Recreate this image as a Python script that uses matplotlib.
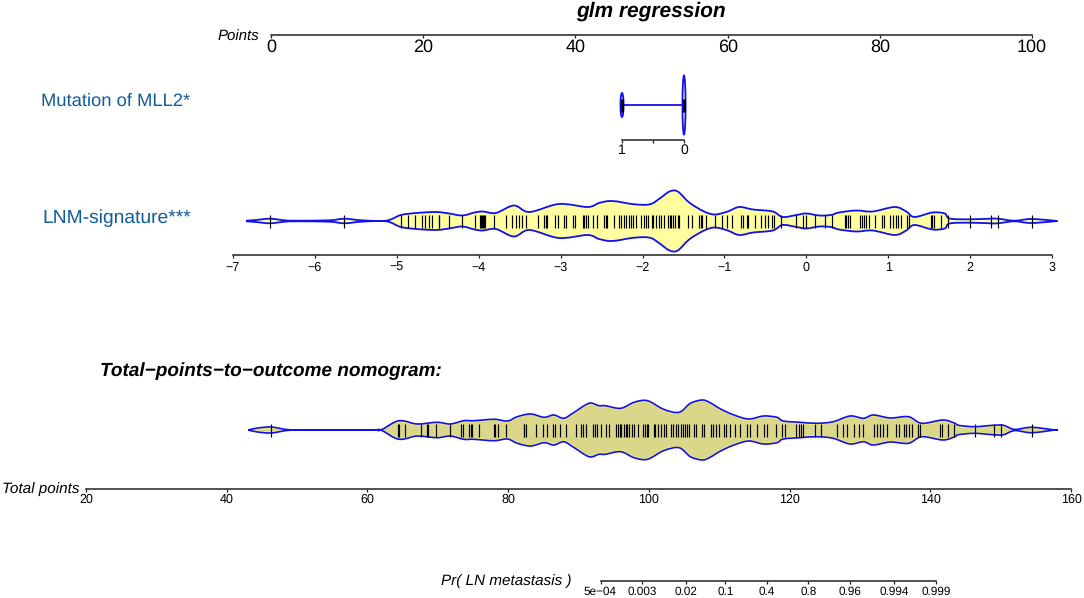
#!/usr/bin/env python3
"""Nomogram with density strips for MLL2 mutation and LNM-signature."""

import matplotlib

matplotlib.use("Agg")

import matplotlib.pyplot as plt
from matplotlib.patches import Ellipse, PathPatch
from matplotlib.path import Path

plt.rcParams["font.family"] = ["Liberation Sans", "DejaVu Sans"]
plt.rcParams["text.hinting"] = "no_hinting"

W, H = 1084, 598

POINTS_TICKS = [0, 20, 40, 60, 80, 100]
MLL2_TICKS = [1, 0.5, 0]
MLL2_LABELS = ["1", "", "0"]
MLL2_VALUES = [1, 0]
MLL2_HALF = [12, 29.5]
LNM_TICKS = [-7, -6, -5, -4, -3, -2, -1, 0, 1, 2, 3]
TOTAL_TICKS = [20, 40, 60, 80, 100, 120, 140, 160]
PR_TICKS = [5e-4, 0.003, 0.02, 0.1, 0.4, 0.8, 0.96, 0.994, 0.999]
PR_LABELS = ["5e\u221204", "0.003", "0.02", "0.1", "0.4", "0.8", "0.96", "0.994", "0.999"]

LNM_X = [-6.84, -6.72, -6.55, -6.37, -6.23, -5.82, -5.64, -5.43, -5.13, -4.95, -4.76, -4.52,
         -4.36, -4.20, -4.05, -3.95, -3.79, -3.57, -3.38, -3.02, -2.67, -2.53, -2.37, -2.10,
         -1.91, -1.79, -1.67, -1.57, -1.43, -1.26, -1.12, -0.96, -0.82, -0.65, -0.41, -0.29,
         -0.12, 0.0, 0.16, 0.30, 0.40, 0.61, 0.81, 1.08, 1.22, 1.32, 1.54, 1.69, 1.75, 1.99,
         2.24, 2.34, 2.54, 2.74, 3.03]
LNM_HALF = [0.3, 1, 2.3, 0.7, 0.3, 0.7, 2.3, 0.7, 0.3, 6, 8, 9,
            7.5, 5.5, 8.5, 9.5, 8, 15.5, 9, 17, 14, 18, 20, 16.7,
            16.7, 22.5, 29.5, 29.5, 18.5, 10, 6.5, 9.5, 14, 11.5, 9.5, 4,
            6, 7.5, 5.5, 6, 8.5, 10.5, 9.5, 14, 9.5, 4, 8.5, 7.5, 2.5, 1.7,
            2.3, 2.3, 0.3, 2, 0.3]
LNM_RUG = [-6.55, -5.64, -4.95, -4.86, -4.78, -4.69, -4.65, -4.61, -4.57, -4.49, -4.48, -4.36,
           -4.20, -4.04, -3.98, -3.97, -3.96, -3.95, -3.93, -3.92, -3.81, -3.67, -3.59, -3.55,
           -3.51, -3.47, -3.42, -3.28, -3.20, -3.18, -3.16, -3.07, -3.03, -2.96, -2.93, -2.85,
           -2.83, -2.73, -2.71, -2.69, -2.67, -2.61, -2.55, -2.47, -2.45, -2.43, -2.35, -2.29,
           -2.26, -2.23, -2.20, -2.17, -2.14, -2.11, -2.08, -2.02, -1.98, -1.96, -1.93, -1.89,
           -1.87, -1.83, -1.80, -1.77, -1.74, -1.69, -1.67, -1.65, -1.63, -1.60, -1.57, -1.56,
           -1.45, -1.39, -1.31, -1.29, -1.27, -1.23, -1.11, -1.03, -0.97, -0.91, -0.80, -0.77,
           -0.73, -0.71, -0.63, -0.55, -0.51, -0.47, -0.42, -0.39, -0.31, -0.12, -0.04, 0.00,
           0.11, 0.23, 0.31, 0.47, 0.49, 0.51, 0.53, 0.66, 0.68, 0.71, 0.73, 0.77, 0.84, 0.93,
           0.95, 1.02, 1.06, 1.09, 1.12, 1.16, 1.23, 1.25, 1.52, 1.54, 1.56, 1.65, 1.73, 2.00,
           2.25, 2.34, 2.75]

TOTAL_X = [43.05, 44.4, 46.3, 48.4, 50.1, 55.0, 60.8, 61.9, 64.0, 65.2, 67.1, 69.9, 71.8, 73.7,
           75.1, 78.0, 79.9, 81.3, 83.2, 85.1, 86.5, 87.9, 89.3, 91.5, 92.9, 93.8, 96.0, 97.9,
           99.8, 102.1, 104.3, 105.9, 107.6, 108.7, 110.2, 112.1, 114.2, 116.3, 118.2,
           119.1, 121.5, 123.9, 126.2, 128.6, 130.5, 131.9, 134.3, 136.9, 138.8, 141.8,
           143.5, 144.0, 146.3, 148.9, 150.4, 152.0, 154.4, 157.7]
TOTAL_HALF = [0, 1, 2, 0.3, 0, 0, 0, 0, 7.3, 8, 5, 6.7, 5, 8.3,
              8.3, 9.7, 8, 12.3, 15, 11.7, 14, 10.7, 16.3, 25.7, 23.3, 23.3, 20.7, 26.7,
              28.3, 19.7, 16.7, 25.7, 29, 26.3, 20, 14, 10, 13, 11.7,
              8, 6.7, 5.7, 7.3, 13, 10.7, 14, 11, 12.3, 5.7, 9,
              5.7, 3.7, 2.3, 3.7, 3.7, 0.3, 1.7, 0]
TOTAL_RUG = [46.3, 64.3, 64.5, 65.4, 67.6, 68.4, 68.6, 69.8, 71.7, 73.3, 73.6, 74.4, 74.7, 74.9,
             75.9, 78.0, 78.2, 78.6, 79.7, 82.2, 82.3, 82.6, 83.9, 85.0, 85.5, 86.4, 86.7, 87.4,
             88.2, 89.7, 90.4, 90.7, 91.0, 92.0, 92.3, 92.6, 93.2, 93.9, 94.3, 95.4, 95.6, 95.9,
             96.1, 96.4, 96.7, 96.9, 97.2, 97.6, 97.9, 98.4, 99.2, 99.4, 99.7, 99.9, 100.7, 100.9,
             101.3, 101.7, 102.1, 102.5, 103.2, 103.5, 103.8, 104.1, 104.5, 104.8, 105.1, 105.4,
             105.7, 106.4, 106.7, 107.6, 107.8, 108.8, 109.1, 109.5, 109.9, 110.7, 111.0, 111.6,
             112.3, 112.9, 113.9, 114.4, 115.3, 116.3, 116.8, 118.1, 118.9, 119.4, 120.9, 121.3,
             121.6, 121.9, 123.6, 124.4, 126.7, 127.6, 128.2, 129.1, 129.9, 130.4, 132.0, 132.4,
             132.9, 133.3, 133.9, 135.1, 135.6, 136.2, 136.6, 137.0, 137.4, 138.3, 138.5, 141.4,
             141.6, 142.5, 143.4, 146.4, 149.1, 150.0, 154.4]

BLUE = "#1010F0"
LABEL_BLUE = "#0F5C9E"
RUG_HALF = 6.5


def scale_axes(fig, x0, x1, y_axis, above=0, below=0):
    """Axes whose bottom spine is the scale; y units are pixels from the strip centre."""
    ax = fig.add_axes([x0 / W, 1 - y_axis / H, (x1 - x0) / W, max(above, 1) / H])
    ax.patch.set_alpha(0)
    for side in ["top", "left", "right"]:
        ax.spines[side].set_visible(False)
    ax.spines["bottom"].set_linewidth(1.1)
    ax.spines["bottom"].set_color("#222222")
    ax.set_yticks([])
    ax.set_ylim(-below, max(above, 1) - below)
    return ax


def style_ticks(ax, ticks, labels, size, pad=1.5):
    ax.set_xticks(ticks)
    ax.set_xticklabels(labels)
    ax.minorticks_off()
    ax.tick_params(axis="x", length=2.5, width=0.9, labelsize=size, pad=pad, color="#222222")


def outline_path(x, half):
    """Closed smooth outline (Catmull-Rom as Bezier) through the knots, upper then lower."""
    knots = list(zip(x, half)) + [(a, -b) for a, b in zip(x[::-1], half[::-1])]
    verts = [knots[0]]
    codes = [Path.MOVETO]
    n = len(knots)
    for i in range(n - 1):
        p0 = knots[max(i - 1, 0)]
        p1 = knots[i]
        p2 = knots[i + 1]
        p3 = knots[min(i + 2, n - 1)]
        c1 = (p1[0] + (p2[0] - p0[0]) / 6, p1[1] + (p2[1] - p0[1]) / 6)
        c2 = (p2[0] - (p3[0] - p1[0]) / 6, p2[1] - (p3[1] - p1[1]) / 6)
        verts += [c1, c2, p2]
        codes += [Path.CURVE4] * 3
    return Path(verts, codes)


def strip(ax, x, half, rug, fill, edge=None):
    if edge is None:
        ax.add_patch(PathPatch(outline_path(x, half), facecolor=fill, edgecolor=BLUE,
                               linewidth=1.3, clip_on=False))
    else:
        ax.add_patch(PathPatch(outline_path(x, half), facecolor=fill, edgecolor=edge,
                               linewidth=0.9, clip_on=False))
        outer = [h + min(h, 1.0) for h in half]
        ax.add_patch(PathPatch(outline_path(x, outer), facecolor="none", edgecolor=BLUE,
                               linewidth=1.2, clip_on=False))
    ax.vlines(rug, -RUG_HALF, RUG_HALF, color="black", linewidth=0.85, clip_on=False, zorder=4)


def put_text(fig, x, y, text, **kwargs):
    fig.text(x / W, 1 - y / H, text, va="center", **kwargs)


fig = plt.figure(figsize=(W / 100, H / 100), dpi=100)

# points scale
ax = scale_axes(fig, 271, 1032, 35)
ax.set_xlim(0, 100)
style_ticks(ax, POINTS_TICKS, [str(t) for t in POINTS_TICKS], 13, pad=0)

# MLL2 row
ax = scale_axes(fig, 622, 684, 140, above=70, below=35)
ax.set_xlim(1, 0)
style_ticks(ax, MLL2_TICKS, MLL2_LABELS, 10, pad=0)
ax.plot(MLL2_VALUES, [0, 0], color=BLUE, linewidth=1.3, clip_on=False)
for value, half in zip(MLL2_VALUES, MLL2_HALF):
    ax.add_patch(Ellipse((value, 0), 0.05, 2 * half, facecolor="#FFFFA0", edgecolor=BLUE,
                         linewidth=1.3, clip_on=False))
ax.vlines(MLL2_VALUES, -RUG_HALF, RUG_HALF, color="black", linewidth=2.2, clip_on=False, zorder=4)

# LNM-signature row
ax = scale_axes(fig, 233, 1052, 255, above=68, below=34)
ax.set_xlim(-7, 3)
style_ticks(ax, LNM_TICKS, [str(t).replace("-", "\u2212") for t in LNM_TICKS], 9, pad=2)
strip(ax, LNM_X, LNM_HALF, LNM_RUG, "#FFFF9F")

# total points row
ax = scale_axes(fig, 86, 1071, 489, above=118, below=59)
ax.set_xlim(20, 160)
style_ticks(ax, TOTAL_TICKS, [str(t) for t in TOTAL_TICKS], 9, pad=1)
strip(ax, TOTAL_X, TOTAL_HALF, TOTAL_RUG, "#DAD78A", edge="#F2F060")

# probability scale
ax = scale_axes(fig, 600.5, 936, 581)
ax.set_xscale("logit")
ax.set_xlim(PR_TICKS[0], PR_TICKS[-1])
style_ticks(ax, PR_TICKS, PR_LABELS, 8.5, pad=1)

put_text(fig, 651, 11, "glm regression", ha="center", fontsize=15, fontweight="bold", fontstyle="italic")
put_text(fig, 218, 37, "Points", fontsize=10.8, fontstyle="italic")
put_text(fig, 41, 101, "Mutation of MLL2*", fontsize=13.2, color=LABEL_BLUE)
put_text(fig, 42, 218, "LNM-signature***", fontsize=13.9, color=LABEL_BLUE)
put_text(fig, 100, 371, "Total\u2212points\u2212to\u2212outcome nomogram:", fontsize=13.7,
         fontweight="bold", fontstyle="italic")
put_text(fig, 2, 489, "Total points", fontsize=11, fontstyle="italic")
put_text(fig, 441, 581, "Pr( LN metastasis )", fontsize=11, fontstyle="italic")

fig.savefig("out.png", dpi=100)
